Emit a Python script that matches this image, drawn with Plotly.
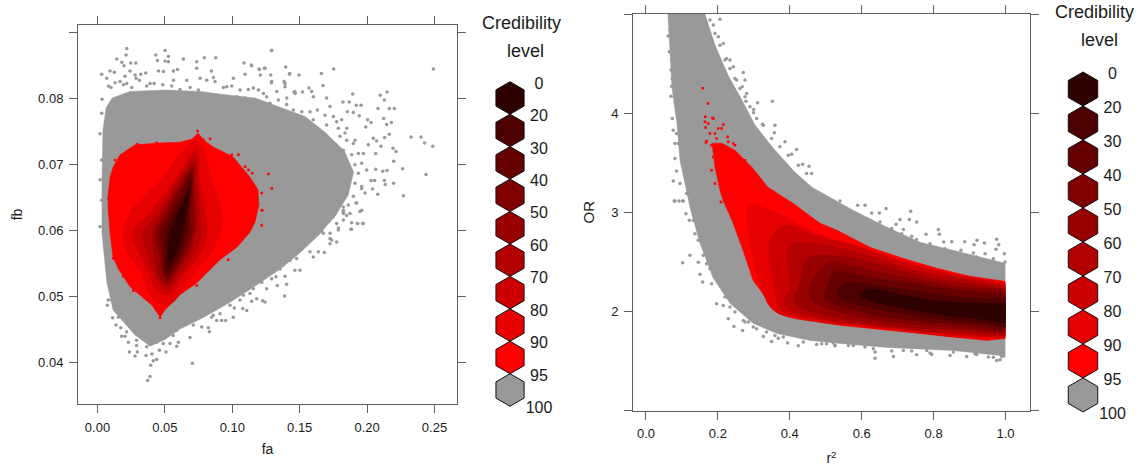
import plotly.graph_objects as go

W, H = 1138, 470

# ---------- legend ----------
LEGEND_COLOURS = ["#2e0000", "#4d0000", "#660000", "#800000", "#990000",
                  "#b30000", "#cc0000", "#e60000", "#ff0000", "#999999"]
LEGEND_LABELS = ["0", "20", "30", "40", "50", "60", "70", "80", "90", "95", "100"]
GRAY = "#999999"
RED = "#ff0000"

# ---------- left panel: fa / fb credibility outlines ----------
L_GRAY = [(.0033,.0595),(.0033,.0676),(.0041,.0752),(.0063,.0785),(.0108,.0800),(.0241,.0810),(.0501,.0812),
          (.0761,.0810),(.0983,.0804),(.1169,.0800),(.1354,.0786),(.1540,.0772),(.1688,.0748),(.1830,.0720),
          (.1900,.0688),(.1860,.0653),(.1770,.0623),(.1640,.0592),(.1500,.0565),(.1350,.0540),(.1170,.0515),
          (.0980,.0490),(.0790,.0468),(.0612,.0450),(.0501,.0434),(.0390,.0424),(.0278,.0441),(.0115,.0479),
          (.0070,.0520)]
L_95 = [(.0078,.0635),(.0078,.0653),(.0093,.0680),(.0115,.0695),(.0167,.0714),(.0278,.0729),(.0464,.0732),
        (.0612,.0733),(.0701,.0738),(.0746,.0747),(.0790,.0736),(.0857,.0726),(.1005,.0711),(.1132,.0680),
        (.1191,.0661),(.1198,.0638),(.1169,.0612),(.1132,.0597),(.1035,.0574),(.0909,.0555),(.0738,.0520),
        (.0612,.0502),(.0501,.0479),(.0464,.0468),(.0404,.0486),(.0338,.0497),(.0241,.0514),(.0152,.0542),
        (.0115,.0559),(.0093,.0595)]
L_90 = [(.0738,.0736),(.0850,.0676),(.0924,.0626),(.0909,.0595),(.0835,.0562),(.0738,.0539),(.0523,.0486),
        (.0404,.0497),(.0315,.0539),(.0226,.0562),(.0189,.0595),(.0241,.0626),(.0464,.0676)]
L_80 = [(.0731,.0721),(.0761,.0676),(.0798,.0626),(.0813,.0595),(.0761,.0562),(.0664,.0539),(.0516,.0502),
        (.0427,.0512),(.0375,.0539),(.0315,.0562),(.0263,.0595),(.0390,.0626),(.0575,.0676)]
L_70 = [(.0723,.0709),(.0738,.0676),(.0761,.0626),(.0768,.0595),(.0709,.0562),(.0634,.0539),(.0516,.0509),
        (.0449,.0524),(.0412,.0539),(.0375,.0562),(.0338,.0595),(.0449,.0626),(.0597,.0676)]
L_60 = [(.0716,.0702),(.0716,.0676),(.0731,.0626),(.0723,.0595),(.0672,.0562),(.0597,.0539),(.0516,.0517),
        (.0464,.0527),(.0441,.0539),(.0427,.0562),(.0404,.0595),(.0486,.0626),(.0627,.0676)]
L_50 = [(.0709,.0694),(.0709,.0676),(.0709,.0626),(.0709,.0595),(.0649,.0562),(.0582,.0539),(.0516,.0521),
        (.0479,.0539),(.0464,.0562),(.0434,.0595),(.0508,.0626),(.0642,.0676)]
L_40 = [(.0701,.0688),(.0701,.0661),(.0686,.0626),(.0686,.0595),(.0627,.0562),(.0560,.0539),(.0516,.0527),
        (.0486,.0539),(.0486,.0562),(.0464,.0595),(.0538,.0626),(.0657,.0673)]
L_30 = [(.0694,.0676),(.0686,.0653),(.0672,.0626),(.0657,.0595),(.0605,.0562),(.0545,.0542),(.0516,.0536),
        (.0501,.0547),(.0508,.0570),(.0501,.0595),(.0568,.0626),(.0657,.0658)]
L_20 = [(.0679,.0661),(.0672,.0645),(.0657,.0626),(.0627,.0595),(.0575,.0562),(.0531,.0548),(.0523,.0570),
        (.0538,.0595),(.0597,.0626),(.0649,.0648)]

L_GRAY_POINTS = [
 (.0217,.0875),(.0212,.0865),(.0143,.0859),(.0180,.0854),(.0197,.0849),(.0246,.0853),(.0284,.0853),(.0031,.0836),
 (.0093,.0841),(.0125,.0839),(.0432,.0865),(.0501,.0872),(.0526,.0863),(.0444,.0857),(.0501,.0856),(.0526,.0855),
 (.0637,.0859),(.0736,.0855),(.0793,.0861),(.0877,.0861),(.0736,.0845),(.1292,.0872),(.1087,.0853),(.1144,.0849),
 (.1201,.0843),(.1243,.0845),(.1396,.0847),(.1424,.0836),(.0845,.0841),(.0593,.0843),(.0563,.0841),(.0452,.0841),
 (.0358,.0838),(.0321,.0836),(.0279,.0835),(.0241,.0841),(.0204,.0833),(.0489,.0840),(.0286,.0830),(.0068,.0830),
 (.0167,.0825),(.0100,.0816),(.0034,.0798),(.0761,.0830),(.1008,.0830),(.1095,.0836),(.1285,.0835),(.1292,.0825),
 (.1391,.0822),(.0860,.0831),(.0662,.0827),(.0563,.0827),(.0390,.0822),(.0217,.0822),(.0959,.0817),(.1156,.0815),
 (.1231,.0807),(.1466,.0809),
 (.1290,.0872),(.1141,.0850),(.1198,.0844),(.1238,.0845),(.1208,.0835),(.1426,.0837),(.1495,.0835),(.1661,.0837),
 (.1752,.0844),(.2492,.0844),(.1290,.0823),(.1384,.0825),(.1391,.0817),(.1673,.0819),(.1569,.0815),(.1589,.0810),
 (.1458,.0809),(.1520,.0809),(.1893,.0806),(.2098,.0804),(.2148,.0809),(.2128,.0797),(.1821,.0794),(.1868,.0794),
 (.1955,.0789),(.1920,.0789),(.2081,.0784),(.2165,.0784),(.2202,.0784),(.1853,.0779),(.1898,.0778),(.1942,.0773),
 (.2123,.0769),(.2180,.0763),(.2145,.0760),(.2004,.0767),(.2029,.0763),(.1990,.0756),(.2165,.0745),(.2130,.0740),
 (.2326,.0741),(.2400,.0741),(.2427,.0732),(.2487,.0727),(.2071,.0735),(.2103,.0727),(.2192,.0724),(.2215,.0719),
 (.2064,.0716),(.2197,.0704),(.2264,.0693),(.2064,.0692),(.2116,.0689),(.2148,.0690),(.2437,.0684),(.2029,.0675),
 (.2056,.0675),(.2128,.0675),(.2135,.0669),(.2197,.0671),(.2041,.0662),(.2079,.0654),(.2269,.0652),(.1967,.0610),
 (.1930,.0610),(.1883,.0601),(.1923,.0641),(.1947,.0628),(.1824,.0615),(.1985,.0656),(.1960,.0666),(.1997,.0691),
 (.1972,.0716),(.2009,.0729),(.1910,.0736),(.2046,.0739),(.1849,.0754),(.1774,.0764),(.1725,.0787),(.1700,.0800),
 (.1601,.0802),(.1824,.0630),(.1873,.0625),(.1774,.0610),(.1725,.0595),
 (.0372,.0372),(.0389,.0378),(.0703,.0398),(.0394,.0395),(.0439,.0404),(.0414,.0402),(.0278,.0409),(.0236,.0415),
 (.0295,.0415),(.0360,.0410),(.0404,.0412),(.0459,.0418),(.0508,.0415),(.0229,.0430),(.0290,.0425),(.0587,.0424),
 (.0538,.0428),(.0179,.0439),(.0204,.0439),(.0600,.0430),(.0686,.0437),(.0830,.0446),(.0822,.0452),(.0773,.0453),
 (.0172,.0452),(.0137,.0456),(.0112,.0467),(.0073,.0486),(.0080,.0494),(.0142,.0481),(.0951,.0463),(.0921,.0463),
 (.0884,.0463),(.1008,.0468),(.1015,.0482),(.1077,.0481),(.1107,.0478),(.1225,.0493),(.1243,.0491),(.1181,.0496),
 (.1144,.0492),(.1388,.0500),(.1255,.0511),(.1334,.0516),(.1403,.0518),(.1324,.0529),(.1391,.0530),(.1502,.0539),
 (.1465,.0539),(.1601,.0559),(.1683,.0566),(.1638,.0567),(.1725,.0579),(.1774,.0582),(.1737,.0585),(.1881,.0601),
 (.1786,.0600),(.1972,.0610),(.1928,.0610),(.1885,.0611),(.1960,.0630),(.1918,.0641),(.1824,.0627),(.1675,.0595),
 (.1576,.0567),(.1428,.0554),(.1354,.0541),(.1218,.0521),(.1156,.0511),(.1082,.0501),(.0983,.0486),(.0859,.0471),
 (.0711,.0456),(.0562,.0440),(.0488,.0428),
 # dense fringe, top
 (.0081,.0818),(.0130,.0823),(.0192,.0820),(.0254,.0816),(.0311,.0827),(.0365,.0818),(.0420,.0822),(.0484,.0820),
 (.0551,.0818),(.0612,.0813),(.0687,.0816),(.0748,.0812),(.0810,.0827),(.0872,.0825),(.0934,.0816),(.0996,.0818),
 (.1058,.0812),(.1119,.0813),(.1194,.0812),(.1255,.0802),(.1330,.0810),(.1404,.0800),(.1466,.0807),
 (.1032,.0802),(.1094,.0800),(.1156,.0797),(.1218,.0792),(.1280,.0792),(.1342,.0797),(.1403,.0790),
 (.1453,.0782),(.1515,.0779),(.1577,.0779),(.1631,.0782),(.1688,.0774),(.1750,.0772),(.1811,.0767),(.1601,.0767),
 (.1700,.0759),(.1787,.0754),(.1836,.0747),
 # dense fringe, right
 (.1799,.0742),(.1849,.0736),(.1898,.0731),(.1824,.0721),(.1886,.0714),(.1935,.0716),(.1849,.0704),(.1910,.0699),
 (.1960,.0701),(.1824,.0689),(.1873,.0683),(.1935,.0686),(.1787,.0673),(.1849,.0668),(.1910,.0671),(.1960,.0663),
 (.1774,.0658),(.1836,.0653),(.1898,.0651),(.1725,.0646),(.1799,.0641),(.1861,.0638),(.1700,.0630),(.1762,.0625),
 (.1824,.0625),(.1651,.0618),(.1713,.0613),(.1787,.0603),(.1601,.0605),(.1663,.0598),(.1725,.0587),(.1577,.0590),
 # dense fringe, lower right and lower left
 (.1601,.0589),(.1651,.0600),(.1552,.0579),(.1477,.0569),(.1403,.0557),(.1329,.0547),(.1255,.0536),(.1181,.0526),
 (.1107,.0516),(.1032,.0506),(.0958,.0496),(.0884,.0486),(.0810,.0476),(.0736,.0468),(.0661,.0458),(.0587,.0448),
 (.0513,.0440),(.0439,.0430),(.0365,.0423),(.0290,.0433),(.0216,.0446),(.0154,.0468),(.0105,.0494),(.1651,.0615),
 (.1749,.0620),(.1824,.0635),(.1848,.0622),(.1477,.0557),(.1379,.0547),(.1292,.0526),(.1131,.0504),(.1057,.0494),
 (.0909,.0473),(.0847,.0468),
 # left edge
 (.0031,.0777),(.0019,.0746),(.0031,.0706),(.0019,.0676),(.0031,.0645),(.0019,.0605)]
L_RED_POINTS = [(.1268,.0685),(.1293,.0663),(.1218,.0656),(.1218,.0630),(.1149,.0686),(.1120,.0691),(.1045,.0714),
                (.0996,.0714),(.0835,.0738),(.0786,.0737),(.0743,.0750),(.0296,.0730),(.0439,.0732),(.0130,.0706),
                (.0081,.0648),(.1181,.0646),(.1095,.0696),(.1218,.0607),(.1223,.0630),(.0464,.0467),(.0970,.0555),
                (.0736,.0516),(.0266,.0508),(.0191,.0530),(.0117,.0557)]

# ---------- right panel: r2 / OR credibility outlines ----------
R_GRAY = [(.0612,5.0),(.0668,4.606),(.0723,4.262),(.0862,3.899),(.0946,3.525),(.1168,3.151),(.1224,3.050),
          (.1502,2.687),(.1864,2.343),(.2337,2.081),(.2977,1.879),(.3644,1.778),(.4562,1.707),(.5397,1.677),
          (.6705,1.636),(.8541,1.606),(.9848,1.556),(.9988,1.535),(.9988,2.485),(.8541,2.616),(.7623,2.697),
          (.6705,2.848),(.5759,3.020),(.4618,3.252),(.4145,3.404),(.3589,3.626),(.3032,3.879),(.2671,4.131),
          (.2281,4.384),(.1920,4.687),(.1641,5.0)]
R_95 = [(.1836,3.697),(.1920,3.454),(.2059,3.222),(.2142,3.121),(.2392,2.919),(.2699,2.616),(.2977,2.313),
        (.3450,2.081),(.4284,1.939),(.5397,1.859),(.6232,1.828),(.7623,1.778),(.9487,1.707),(.9988,1.727),
        (.9988,2.303),(.9014,2.354),(.8096,2.434),(.7150,2.535),(.6232,2.646),(.5314,2.818),(.4841,2.889),
        (.4090,3.091),(.3394,3.252),(.2949,3.454),(.2476,3.626),(.2114,3.697)]
R_90 = [(.9988,2.283),(.9988,2.273),(.9988,1.747),(.9988,1.737),(.8735,1.737),(.7484,1.788),(.6232,1.838),(.4841,1.889),
        (.3589,2.0),(.3227,2.212),(.2893,2.717),(.2893,3.071),(.3589,3.0),(.4702,2.798),(.5675,2.667),(.7484,2.485),(.8735,2.364)]
R_80 = [(.9988,2.263),(.9988,2.253),(.9988,1.757),(.9988,1.747),(.8735,1.758),(.7484,1.798),(.6232,1.848),(.4841,1.909),
        (.3728,2.020),(.3589,2.212),(.3450,2.717),(.3867,2.869),(.4702,2.768),(.5814,2.667),(.7623,2.444)]
R_70 = [(.9988,2.242),(.9988,2.232),(.9988,1.768),(.9988,1.758),(.8735,1.778),(.7484,1.808),(.6232,1.859),(.4841,1.929),
        (.3867,2.061),(.4006,2.263),(.4006,2.667),(.4980,2.667),(.5953,2.586),(.7762,2.394)]
R_60 = [(.9988,2.222),(.9988,2.212),(.9988,1.788),(.9988,1.778),(.8735,1.808),(.7484,1.828),(.6232,1.879),(.4980,1.960),
        (.4145,2.081),(.4284,2.283),(.4507,2.535),(.5397,2.556),(.6232,2.495),(.8040,2.323)]
R_50 = [(.9988,2.202),(.9988,2.192),(.9988,1.808),(.9988,1.798),(.8875,1.828),(.7762,1.859),(.6510,1.909),(.5397,1.990),
        (.4562,2.131),(.4618,2.313),(.5119,2.495),(.5536,2.475),(.6649,2.384),(.8457,2.263)]
R_40 = [(.9988,2.172),(.9988,2.162),(.9988,1.828),(.9988,1.818),(.9014,1.859),(.7901,1.889),(.6788,1.939),(.5814,2.010),
        (.4980,2.131),(.5063,2.263),(.5258,2.394),(.6232,2.343),(.7484,2.283),(.8735,2.212)]
R_30 = [(.9988,2.131),(.9988,2.121),(.9988,1.858),(.9988,1.848),(.9153,1.889),(.8179,1.919),(.7066,1.980),(.6093,2.051),
        (.5341,2.152),(.5536,2.283),(.6371,2.263),(.7344,2.212),(.8457,2.152),(.9431,2.131)]
R_20 = [(.9988,2.081),(.9988,2.071),(.9988,1.899),(.9988,1.889),(.9153,1.929),(.8318,1.960),(.7344,2.020),(.6510,2.081),
        (.5953,2.162),(.6232,2.222),(.7066,2.172),(.7901,2.111),(.8875,2.091),(.9570,2.081)]

R_GRAY_POINTS = [
 (.2058,4.946),(.0621,4.777),(.0649,4.619),(.0695,4.434),(.0714,4.272),(.0695,4.171),(.0853,4.064),(.0732,3.946),
 (.0760,3.828),(.0806,3.693),(.0806,3.542),(.0853,3.417),(.0760,3.316),(.0945,3.289),(.0788,3.114),(.0918,3.114),
 (.1038,3.114),(.1131,3.188),(.0899,3.693),(.2707,4.410),(.2521,4.333),(.2753,4.333),(.2679,4.266),(.2800,4.198),
 (.3105,4.104),(.3513,4.121),(.2781,4.121),(.2994,4.037),(.2994,4.003),(.3588,3.878),(.3569,3.801),(.3244,3.888),
 (.3866,3.710),(.4190,3.633),(.4051,3.585),(.4357,3.484),(.4533,3.464),(.4607,3.390),(.2429,4.468),(.2336,4.535),
 (.2151,4.703),(.1873,4.889),(.2012,4.771),(.2243,4.552),
 (.0806,3.114),(.1019,3.114),(.1112,2.986),(.1316,2.980),(.1205,2.919),(.1362,2.784),(.1223,2.565),(.1019,2.491),
 (.1455,2.495),(.1501,2.374),(.1576,2.296),(.1826,2.279),(.1965,2.077),(.2150,2.060),(.2289,1.926),(.2447,1.848),
 (.2688,1.808),(.3263,1.747),(.3494,1.697),(.3680,1.730),(.3939,1.680),(.4236,1.653),(.4746,1.666),(.5256,1.653),
 (.3077,1.825),(.2753,1.892),
 (.5397,3.114),(.5889,3.070),(.6092,3.070),(.6677,3.037),(.7362,3.010),(.6278,2.993),(.6491,2.993),(.7066,2.926),
 (.7325,2.926),(.7529,2.902),(.6955,2.879),(.7159,2.825),(.8132,2.825),(.8160,2.778),(.7789,2.778),(.7390,2.757),
 (.8864,2.703),(.8503,2.703),(.8280,2.700),(.9207,2.717),(.9411,2.690),(.9754,2.727),(.9810,2.673),(.9736,2.626),
 (.9124,2.673),(.8762,2.616),(.9967,2.582),(.9430,2.582),(.9105,2.589),
 (.6371,1.528),(.6880,1.545),(.6371,1.589),(.7529,1.562),(.8456,1.555),(.8920,1.545),(.9754,1.505),(.9847,1.512),
 (.9893,1.545),(.9522,1.539),(.9152,1.572),(.7946,1.565),(.5258,1.656),(.4887,1.673),(.5629,1.656),(.6092,1.640),
 (.7159,1.606),(.7807,1.606),
 # dense fringe, left
 (.0714,4.905),(.0667,4.838),(.0760,4.703),(.0714,4.535),(.0806,4.451),(.0732,4.350),(.0853,4.316),(.0788,4.165),
 (.0899,4.114),(.0881,3.996),(.0992,3.929),(.0853,3.794),(.1085,3.761),(.0992,3.626),(.1177,3.559),(.1085,3.390),
 (.1270,3.323),(.1177,3.222),(.1363,3.104),
 # dense fringe, upper right
 (.1780,4.939),(.1919,4.804),(.2058,4.686),(.2197,4.535),(.2336,4.451),(.2475,4.350),(.2614,4.249),(.2753,4.165),
 (.2892,4.064),(.3078,3.946),(.3263,3.878),(.3495,3.744),(.3726,3.660),(.3958,3.575),(.4236,3.474),(.4468,3.390),
 # dense fringe, lower left
 (.1316,2.919),(.1455,2.717),(.1594,2.565),(.1780,2.431),(.2011,2.296),(.2197,2.145),(.2475,1.993),(.2707,1.909),
 (.2985,1.842),(.3355,1.791),(.3819,1.741),(.4375,1.690),(.5024,1.673),(.1687,2.481),(.1919,2.347),(.2336,2.044),
 (.2846,1.892),(.3587,1.757),
 # dense fringe, top right
 (.5026,3.070),(.5397,3.003),(.5768,2.969),(.6139,2.936),(.6510,2.902),(.6834,2.835),(.7112,2.784),(.7529,2.724),
 (.7900,2.683),(.8317,2.633),(.8734,2.565),(.9198,2.549),(.9661,2.532),(.9986,2.498),
 # dense fringe, bottom right
 (.5212,1.680),(.5768,1.656),(.6324,1.623),(.6834,1.599),(.7390,1.599),(.7900,1.579),(.8549,1.589),(.9198,1.565),
 (.9661,1.538),(.9940,1.555)]
R_RED_POINTS = [(.1585,4.252),(.1724,4.097),(.1650,3.963),(.1845,3.952),(.1881,3.946),(.1641,3.912),(.1733,3.895),
                (.1659,3.855),(.2151,3.885),(.2012,3.845),(.2104,3.845),(.1687,3.720),(.1669,3.703),(.1780,3.794),
                (.1919,3.794),(.1965,3.744),(.2271,3.761),(.1826,3.676),(.2290,3.710),(.2429,3.693),(.1873,3.558),
                (.1826,3.424),(.1919,3.289),(.2086,3.104),(.2475,3.676),(.2753,3.525),(.3031,3.390)]

L_TICKS_X = [0.00, 0.05, 0.10, 0.15, 0.20, 0.25]
L_TICKTEXT_X = ["0.00", "0.05", "0.10", "0.15", "0.20", "0.25"]
L_TICKS_Y = [0.04, 0.05, 0.06, 0.07, 0.08]
L_TICKTEXT_Y = ["0.04", "0.05", "0.06", "0.07", "0.08"]
L_UNLABELLED_Y = [0.09]
R_TICKS_X = [0.0, 0.2, 0.4, 0.6, 0.8, 1.0]
R_TICKTEXT_X = ["0.0", "0.2", "0.4", "0.6", "0.8", "1.0"]
R_TICKS_Y = [2, 3, 4]
R_TICKTEXT_Y = ["2", "3", "4"]
R_UNLABELLED_Y = [1, 5]

FONT = "Liberation Sans, Arial, sans-serif"
INK = "#1a1a1a"
FRAME = "#606060"

fig = go.Figure()


def region(points, colour, xa, ya, shape="spline"):
    fig.add_trace(go.Scatter(
        x=[p[0] for p in points] + [points[0][0]],
        y=[p[1] for p in points] + [points[0][1]],
        mode="lines", fill="toself", fillcolor=colour,
        line=dict(color=colour, width=0.5, shape=shape), hoverinfo="skip",
        showlegend=False, xaxis=xa, yaxis=ya))


def dots(points, colour, size, symbol, xa, ya):
    fig.add_trace(go.Scatter(
        x=[p[0] for p in points], y=[p[1] for p in points], mode="markers",
        marker=dict(color=colour, size=size, symbol=symbol, line=dict(width=0)),
        hoverinfo="skip", showlegend=False, xaxis=xa, yaxis=ya))


# left panel
dots(L_GRAY_POINTS, GRAY, 3.5, "circle", "x", "y")
region(L_GRAY, GRAY, "x", "y", "linear")
dots(L_RED_POINTS, RED, 2.5, "square", "x", "y")
region(L_95, LEGEND_COLOURS[8], "x", "y", "linear")
for pts, col in zip([L_90, L_80, L_70, L_60, L_50, L_40, L_30, L_20], LEGEND_COLOURS[7::-1]):
    region(pts, col, "x", "y")

# right panel
dots(R_GRAY_POINTS, GRAY, 3.5, "circle", "x2", "y2")
region(R_GRAY, GRAY, "x2", "y2", "linear")
dots(R_RED_POINTS, RED, 2.5, "square", "x2", "y2")
region(R_95, LEGEND_COLOURS[8], "x2", "y2", "linear")
for pts, col in zip([R_90, R_80, R_70, R_60, R_50, R_40, R_30, R_20], LEGEND_COLOURS[7::-1]):
    region(pts, col, "x2", "y2")

# legends, one axis pair each: hexagon index on y
for xa, ya, size, nudge in (("x3", "y3", 32.5, 0.09), ("x4", "y4", 34, 0.09)):
    fig.add_trace(go.Scatter(
        x=[0] * len(LEGEND_COLOURS), y=list(range(len(LEGEND_COLOURS))), mode="markers",
        marker=dict(symbol="hexagon", size=size, color=LEGEND_COLOURS,
                    line=dict(color="#111111", width=1)),
        hoverinfo="skip", showlegend=False, xaxis=xa, yaxis=ya))
    fig.add_trace(go.Scatter(
        x=[1] * len(LEGEND_LABELS), y=[i - 0.5 + nudge for i in range(len(LEGEND_LABELS))],
        mode="text", text=LEGEND_LABELS, textposition="middle center",
        textfont=dict(family=FONT, size=16, color=INK),
        hoverinfo="skip", showlegend=False, xaxis=xa, yaxis=ya))


def dom_x(a, b):
    return [a / W, b / W]


def dom_y(top, bottom):
    return [1 - bottom / H, 1 - top / H]


def axis(domain, rng, vals, text, anchor, title, standoff, size=14, minor_vals=None):
    out = dict(domain=domain, range=rng, tickmode="array", tickvals=vals, ticktext=text,
               ticks="outside", ticklen=8, tickwidth=1, tickcolor=FRAME, showgrid=False,
               zeroline=False, showline=True, linecolor=FRAME, linewidth=1, mirror="allticks",
               tickfont=dict(family=FONT, size=13, color=INK), anchor=anchor,
               ticklabelstandoff=3,
               title=dict(text=title, font=dict(family=FONT, size=size, color=INK), standoff=standoff))
    if minor_vals:
        out["minor"] = dict(tickmode="array", tickvals=minor_vals, ticks="outside", ticklen=8,
                            tickwidth=1, tickcolor=FRAME, showgrid=False)
    return out


def hidden(domain, rng, anchor):
    return dict(domain=domain, range=rng, visible=False, anchor=anchor)


fig.update_layout(
    width=W, height=H, autosize=False, margin=dict(l=0, r=0, t=0, b=0),
    paper_bgcolor="white", plot_bgcolor="white", showlegend=False,
    xaxis=axis(dom_x(78, 457), [-0.01447, 0.2667], L_TICKS_X, L_TICKTEXT_X, "y", "fa", 10),
    yaxis=axis(dom_y(25, 404), [0.03364, 0.09106], L_TICKS_Y, L_TICKTEXT_Y, "x", "fb", 12,
               minor_vals=L_UNLABELLED_Y),
    xaxis2=axis(dom_x(633, 1030), [-0.036, 1.068], R_TICKS_X, R_TICKTEXT_X, "y2", "r<sup>2</sup>", 13),
    yaxis2=axis(dom_y(14, 410.5), [1.0, 5.0], R_TICKS_Y, R_TICKTEXT_Y, "x2", "OR", 12, size=15,
                minor_vals=R_UNLABELLED_Y),
    xaxis3=hidden(dom_x(490, 560), [-0.69, 1.724], "y3"),
    yaxis3=hidden(dom_y(60, 420), [9.926, -1.171], "x3"),
    xaxis4=hidden(dom_x(1060, 1136), [-0.78, 1.797], "y4"),
    yaxis4=hidden(dom_y(50, 430), [10.03, -1.147], "x4"),
    annotations=[
        dict(text=t, x=x / W, y=1 - y / H, xref="paper", yref="paper", showarrow=False,
             xanchor="center", yanchor="middle", font=dict(family=FONT, size=18, color=INK))
        for t, x, y in [("Credibility", 521, 23), ("level", 525, 51),
                        ("Credibility", 1094, 12), ("level", 1099, 40)]
    ],
)

fig.write_html("out.html", config={"displayModeBar": False},
               post_script="document.body.style.margin='0';document.body.style.overflow='hidden';")
